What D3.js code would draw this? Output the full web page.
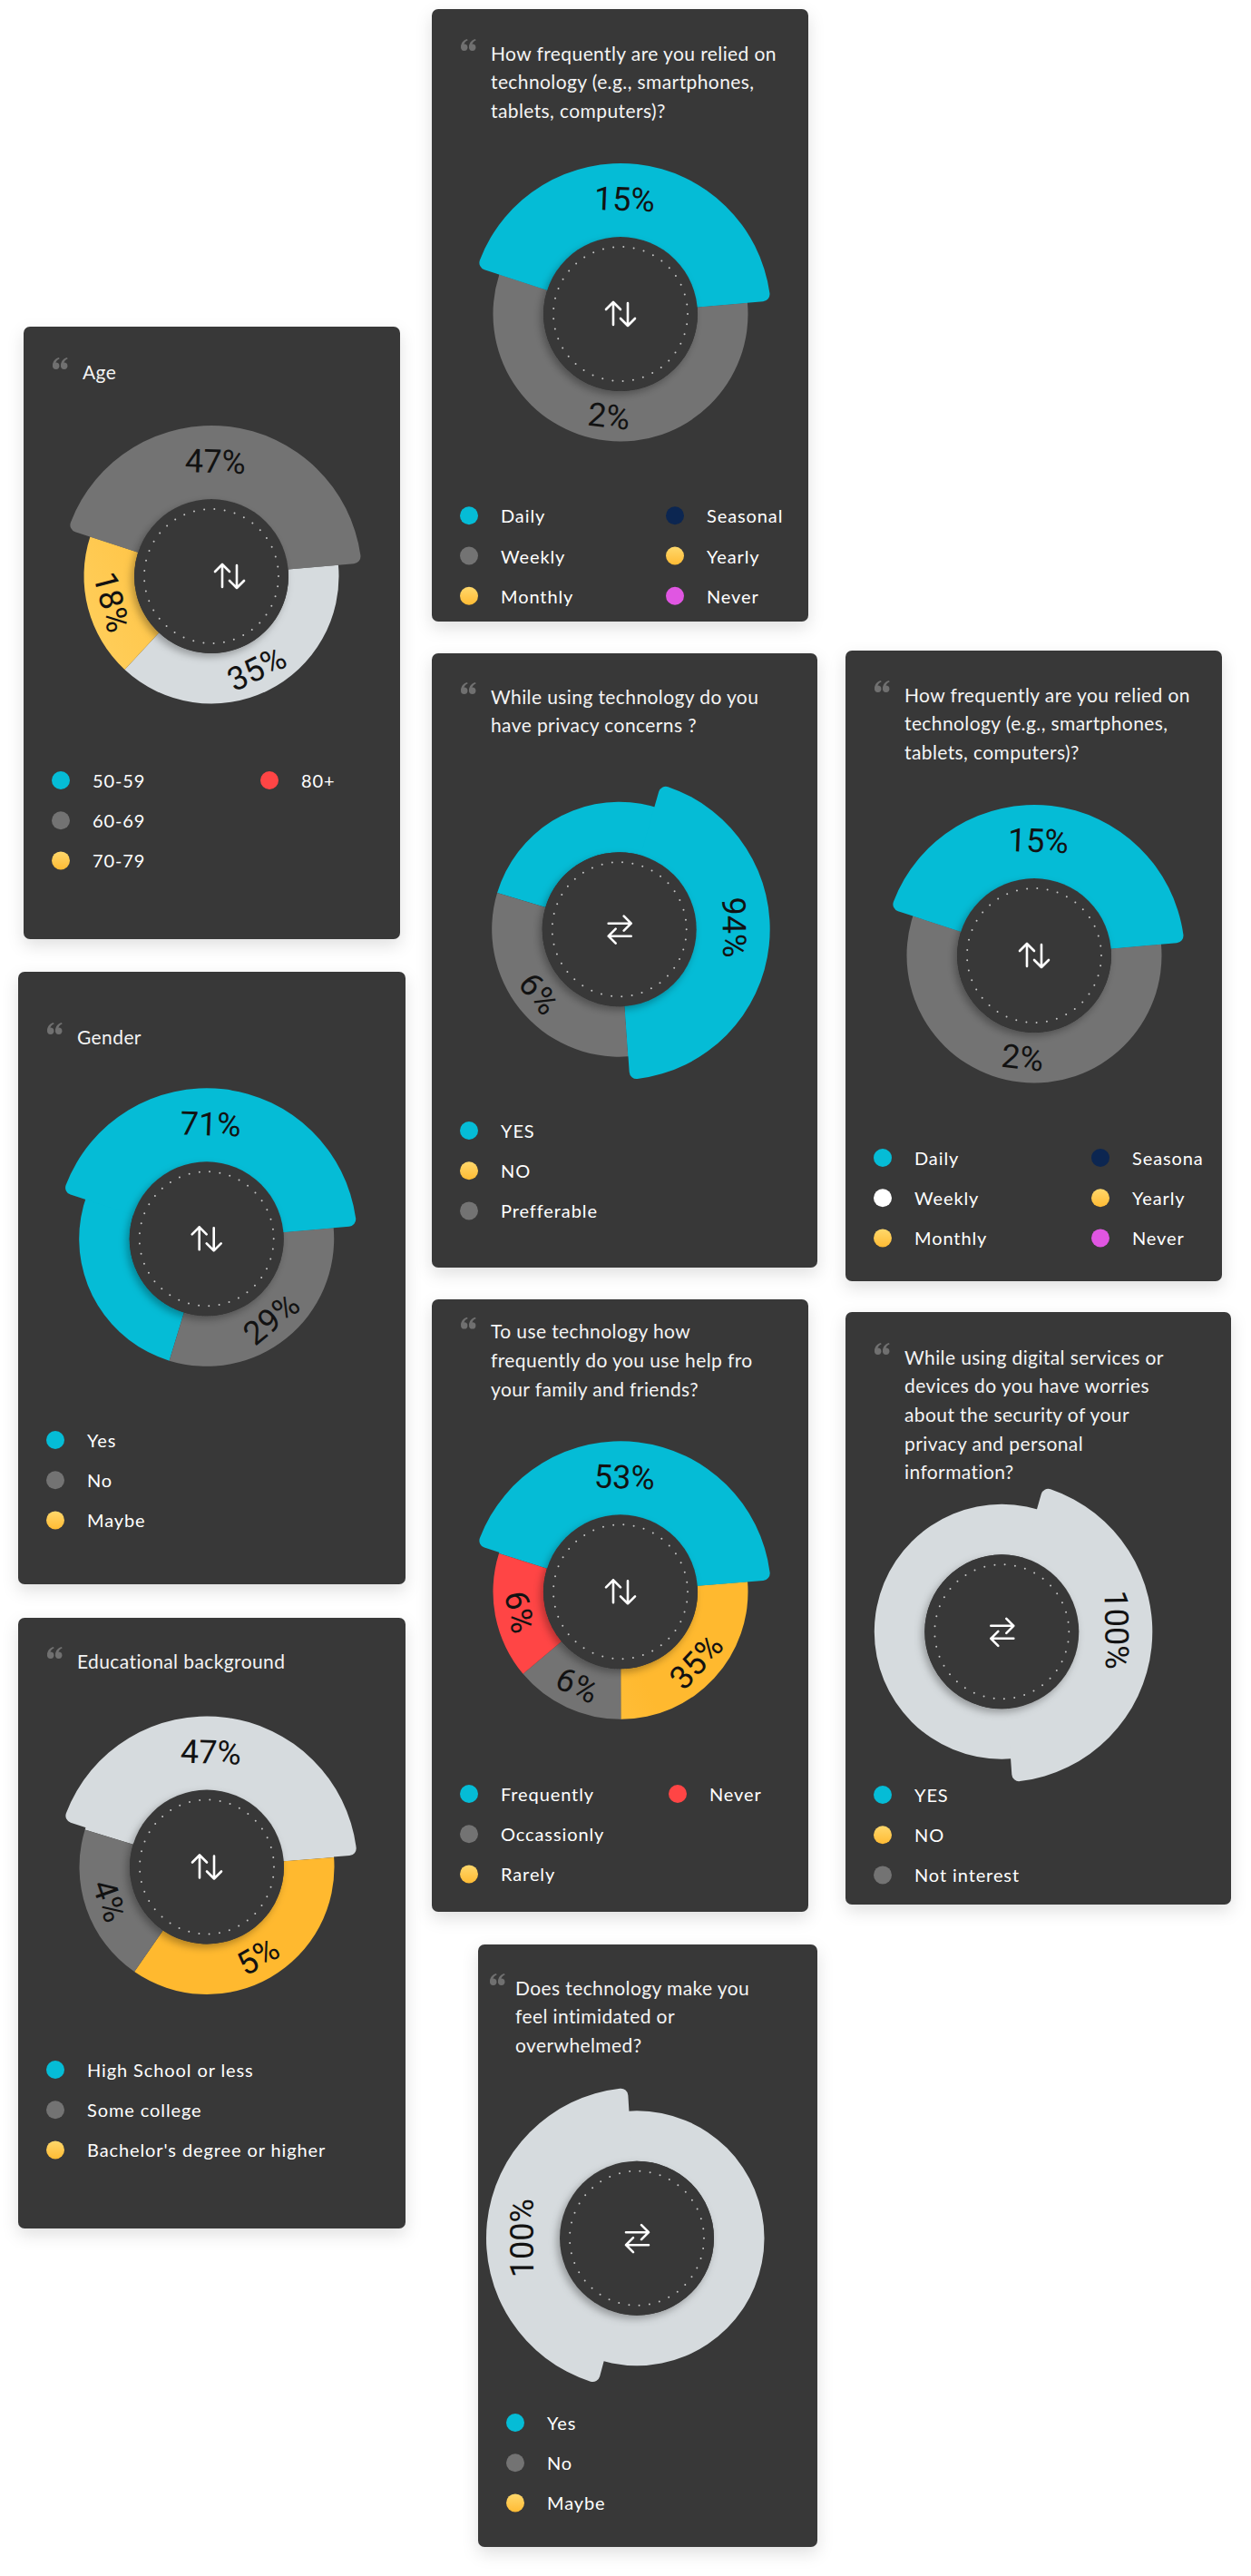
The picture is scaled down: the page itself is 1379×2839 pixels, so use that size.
<!DOCTYPE html>
<html><head><meta charset="utf-8">
<script src="https://cdn.jsdelivr.net/npm/d3@7"></script>
<style>
html,body{margin:0;padding:0;background:#fff;}
svg{display:block;}
.title{font-family:Lato,"Open Sans",sans-serif;font-size:21px;fill:#f4f4f4;letter-spacing:0.4px;}
.leg{font-family:Lato,"Open Sans",sans-serif;font-size:20px;fill:#ffffff;letter-spacing:0.9px;}
.pct{font-family:Roboto,sans-serif;font-size:36px;fill:#121212;}
</style></head><body>
<svg id="c" width="1379" height="2839"></svg>
<script>
// ================= DATA =================
const ageTitle = ["Age"];
const ageLegend = ["50-59", "60-69", "70-79", "80+"];
const ageSlices = [43.6, 38.3, 18.1];
const ageLabels = ["47%", "35%", "18%"];

const genderTitle = ["Gender"];
const genderLegend = ["Yes", "No", "Maybe"];
const genderSlices = [68.9, 31.1];
const genderLabels = ["71%", "29%"];

const eduTitle = ["Educational background"];
const eduLegend = ["High School or less", "Some college", "Bachelor's degree or higher"];
const eduSlices = [44.1, 35.8, 20.1];
const eduLabels = ["47%", "5%", "4%"];

const freqTitle = ["How frequently are you relied on", "technology (e.g., smartphones,", "tablets, computers)?"];
const freqLegend = ["Daily", "Weekly", "Monthly", "Seasonal", "Yearly", "Never"];
const freqSlices = [43.6, 56.4];
const freqLabels = ["15%", "2%"];

const privacyTitle = ["While using technology do you", "have privacy concerns ?"];
const privacyLegend = ["YES", "NO", "Prefferable"];
const privacySlices = [69.3, 30.7];
const privacyLabels = ["94%", "6%"];

const helpTitle = ["To use technology how", "frequently do you use help fro", "your family and friends?"];
const helpLegend = ["Frequently", "Occassionly", "Rarely", "Never"];
const helpSlices = [43.9, 26.2, 13.9, 16.0];
const helpLabels = ["53%", "35%", "6%", "6%"];

const intimTitle = ["Does technology make you", "feel intimidated or", "overwhelmed?"];
const intimLegend = ["Yes", "No", "Maybe"];
const intimSlices = [100];
const intimLabels = ["100%"];

const digitalTitle = ["While using digital services or", "devices do you have worries", "about the security of your", "privacy and personal", "information?"];
const digitalLegend = ["YES", "NO", "Not interest"];
const digitalSlices = [100];
const digitalLabels = ["100%"];

// ================= STYLE / LAYOUT =================
const PAL = {cyan:"#05bcd6", grey:"#737373", light:"#d6dbde", red:"#ff4545",
             navy:"#0c2651", magenta:"#e056e2", white:"#ffffff"};
const WIN = {
  top:   {from:-72,  to:85.5,  label:2},
  right: {from:16,   to:176,   label:89},
  left:  {from:195,  to:356.5, label:270}
};
const cards = [
  {title:ageTitle, legend:ageLegend, legendColors:["cyan","grey","yellow","red"],
   slices:ageSlices, labels:ageLabels, sliceColors:["grey","light","yellow"], start:-72, hi:0, win:"top",
   x:26, y:360, w:415, h:675, titleY:409, cx:233, cy:635, legendY:860, col2:271, iconDx:20, icon:"v"},
  {title:genderTitle, legend:genderLegend, legendColors:["cyan","grey","yellow"],
   slices:genderSlices, labels:genderLabels, sliceColors:["cyan","grey"], start:-163, hi:0, win:"top",
   x:20, y:1071, w:427, h:675, titleY:1142, cx:227.7, cy:1365.3, legendY:1587, icon:"v"},
  {title:eduTitle, legend:eduLegend, legendColors:["cyan","grey","yellow"],
   slices:eduSlices, labels:eduLabels, sliceColors:["light","yellow","grey"], start:-73, hi:0, win:"top",
   x:20, y:1783, w:427, h:673, titleY:1830, cx:228, cy:2057.5, legendY:2281, icon:"v"},
  {title:freqTitle, legend:freqLegend, legendColors:["cyan","grey","yellow","navy","yellow","magenta"],
   slices:freqSlices, labels:freqLabels, sliceColors:["cyan","grey"], start:-72, hi:0, win:"top",
   x:476, y:10, w:415, h:675, titleY:58, cx:684, cy:346, legendY:568.3, col2:268, icon:"v"},
  {title:privacyTitle, legend:privacyLegend, legendColors:["cyan","yellow","grey"],
   slices:privacySlices, labels:privacyLabels, sliceColors:["cyan","grey"], start:-73.4, hi:0, win:"right",
   x:476, y:720, w:425, h:677, titleY:767, cx:682.7, cy:1024.2, legendY:1246, icon:"h"},
  {title:helpTitle, legend:helpLegend, legendColors:["cyan","grey","yellow","red"],
   slices:helpSlices, labels:helpLabels, sliceColors:["cyan","yellow","grey","red"], start:-72.5, hi:0, win:"top",
   x:476, y:1432, w:415, h:675, titleY:1466.7, cx:684, cy:1754.3, legendY:1977, col2:271, icon:"v"},
  {title:intimTitle, legend:intimLegend, legendColors:["cyan","grey","yellow"],
   slices:intimSlices, labels:intimLabels, sliceColors:["light"], start:0, hi:0, win:"left",
   x:527, y:2143, w:374, h:664, titleY:2190, titleDx:41, quoteDx:13, cx:702, cy:2466.7, legendY:2670, icon:"h"},
  {title:freqTitle, legend:freqLegend, legendColors:["cyan","white","yellow","navy","yellow","magenta"],
   slices:freqSlices, labels:freqLabels, sliceColors:["cyan","grey"], start:-72, hi:0, win:"top",
   x:932, y:717, w:415, h:695, titleY:765, cx:1140, cy:1053, legendY:1276, col2:281, icon:"v"},
  {title:digitalTitle, legend:digitalLegend, legendColors:["cyan","yellow","grey"],
   slices:digitalSlices, labels:digitalLabels, sliceColors:["light"], start:0, hi:0, win:"right",
   x:932, y:1446, w:425, h:653, titleY:1495, cx:1104.3, cy:1798.3, legendY:1978, icon:"h"}
];

const rad = d => d*Math.PI/180, deg = r => r*180/Math.PI;
const R_IN = 85, R_OUT = 140.5, R_HI = 166, R_HOLE = 85;
const CARD_BG = "#393939";

const svg = d3.select("#c");
svg.append("rect").attr("width",1379).attr("height",2839).attr("fill","#ffffff");
const defs = svg.append("defs");
const f1 = defs.append("filter").attr("id","cardShadow").attr("x","-20%").attr("y","-20%").attr("width","140%").attr("height","140%");
f1.append("feDropShadow").attr("dx",0).attr("dy",7).attr("stdDeviation",9).attr("flood-color","#000").attr("flood-opacity",0.12);
const f2 = defs.append("filter").attr("id","holeShadow").attr("x","-30%").attr("y","-30%").attr("width","160%").attr("height","160%");
f2.append("feDropShadow").attr("dx",-3).attr("dy",4).attr("stdDeviation",4).attr("flood-color","#000").attr("flood-opacity",0.3);
const lg = defs.append("linearGradient").attr("id","ydot").attr("x1",0).attr("y1",0).attr("x2",0).attr("y2",1);
lg.append("stop").attr("offset",0).attr("stop-color","#ffd86c");
lg.append("stop").attr("offset",1).attr("stop-color","#ffbb34");

// quote mark symbol ("66" shape), drawn once and reused
const qs = defs.append("symbol").attr("id","quote").attr("viewBox","0 0 17 13").attr("overflow","visible");
[0, 9].forEach(ox => {
  qs.append("circle").attr("cx", ox+3.7).attr("cy", 9.2).attr("r", 3.7).attr("fill","#707070");
  qs.append("path").attr("fill","#707070")
    .attr("d", `M${ox},9.2 C${ox},4.6 ${ox+2.6},1.2 ${ox+7},0 L${ox+7.6},1.6 C${ox+5.2},2.6 ${ox+3.9},4.2 ${ox+3.6},5.6 Z`);
});

const baseArc = d3.arc().innerRadius(R_IN).outerRadius(R_OUT);
const hiArc = d3.arc().innerRadius(60).outerRadius(R_HI).cornerRadius(8);

function intersect(s, e, a, b){
  for (const o of [0, -2*Math.PI, 2*Math.PI]) {
    const lo = Math.max(s+o, a), hi = Math.min(e+o, b);
    if (hi > lo) return [lo, hi];
  }
  return null;
}

cards.forEach((c, i) => {
  const g = svg.append("g");
  g.append("rect").attr("x",c.x).attr("y",c.y).attr("width",c.w).attr("height",c.h)
    .attr("rx",7).attr("fill",CARD_BG).attr("filter","url(#cardShadow)");

  // quote mark + title
  g.append("use").attr("href","#quote").attr("x", c.x + (c.quoteDx ?? 32)).attr("y", c.titleY - 15)
    .attr("width",17).attr("height",13);
  c.title.forEach((t, k) => {
    g.append("text").attr("class","title").attr("x", c.x + (c.titleDx ?? 65))
      .attr("y", c.titleY + k*31.7).attr("dominant-baseline","central").text(t);
  });

  // gradient for yellow slices
  const gid = "gy" + i;
  const gr = defs.append("linearGradient").attr("id",gid).attr("gradientUnits","userSpaceOnUse")
    .attr("x1",c.cx-150).attr("y1",c.cy+110).attr("x2",c.cx+150).attr("y2",c.cy-40);
  gr.append("stop").attr("offset",0).attr("stop-color","#ffd86f");
  gr.append("stop").attr("offset",1).attr("stop-color","#ffb92f");
  const col = k => k === "yellow" ? `url(#${gid})` : PAL[k];

  const pie = d3.pie().sort(null).value(d => d)
    .startAngle(rad(c.start)).endAngle(rad(c.start) + 2*Math.PI);
  const arcs = pie(c.slices);
  const dg = g.append("g").attr("transform", `translate(${c.cx},${c.cy})`);

  dg.selectAll("path.base").data(arcs).join("path").attr("class","base")
    .attr("d", baseArc).attr("fill", (d, k) => col(c.sliceColors[k]));

  const W = WIN[c.win];
  const h = arcs[c.hi];
  const seg = intersect(h.startAngle, h.endAngle, rad(W.from), rad(W.to));
  if (seg) dg.append("path").attr("d", hiArc({startAngle:seg[0], endAngle:seg[1]}))
    .attr("fill", col(c.sliceColors[c.hi]));

  dg.append("circle").attr("r", R_HOLE).attr("fill", CARD_BG).attr("filter","url(#holeShadow)");
  dg.append("circle").attr("r", 74).attr("fill","none").attr("stroke","#c4c4c4")
    .attr("stroke-width",2).attr("stroke-dasharray","0 11.34").attr("stroke-linecap","round");

  // icon
  const ig = dg.append("g").attr("transform", `translate(${c.iconDx || 0},0)`)
    .attr("fill","none").attr("stroke","#ffffff").attr("stroke-width",2.6)
    .attr("stroke-linecap","round").attr("stroke-linejoin","round");
  if (c.icon === "v") {
    ig.append("path").attr("d","M-8,12 L-8,-13 M-16,-5 L-8,-13 L0,-5");
    ig.append("path").attr("d","M8,-12 L8,13 M0,5 L8,13 L16,5");
  } else {
    ig.append("path").attr("d","M-12,-6.5 L13,-6.5 M5,-14.5 L13,-6.5 L5,1.5");
    ig.append("path").attr("d","M13,7.5 L-12,7.5 M-4,-0.5 L-12,7.5 L-4,15.5");
  }

  // labels
  arcs.forEach((a, k) => {
    let ang, r;
    if (k === c.hi) { ang = W.label; r = 126; }
    else { ang = deg((a.startAngle + a.endAngle) / 2); r = 114; }
    ang = ((ang % 360) + 360) % 360;
    const rot = (ang > 90 && ang < 270) ? ang - 180 : (ang >= 270 ? ang - 360 : ang);
    const x = r*Math.sin(rad(ang)), y = -r*Math.cos(rad(ang));
    dg.append("text").attr("class","pct").attr("text-anchor","middle").attr("dominant-baseline","central")
      .attr("transform", `translate(${x.toFixed(2)},${y.toFixed(2)}) rotate(${rot.toFixed(2)})`)
      .text(c.labels[k]);
  });

  // legend
  const cid = "clip" + i;
  defs.append("clipPath").attr("id",cid).append("rect")
    .attr("x",c.x).attr("y",c.y).attr("width",c.w-20).attr("height",c.h);
  const lgG = g.append("g").attr("clip-path",`url(#${cid})`);
  c.legend.forEach((name, k) => {
    const colIdx = Math.floor(k/3), row = k % 3;
    const dx = colIdx === 0 ? 41 : c.col2;
    const y = c.legendY + row*44.2;
    const fill = c.legendColors[k] === "yellow" ? "url(#ydot)" : PAL[c.legendColors[k]];
    lgG.append("circle").attr("cx", c.x + dx).attr("cy", y).attr("r", 10).attr("fill", fill);
    lgG.append("text").attr("class","leg").attr("x", c.x + dx + 35).attr("y", y)
      .attr("dominant-baseline","central").text(name);
  });
});
</script>
</body></html>
